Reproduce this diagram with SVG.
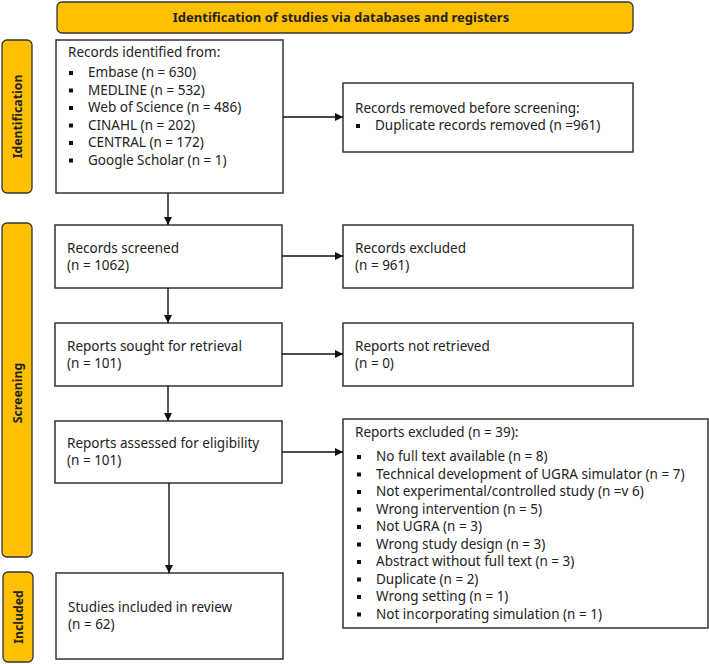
<svg xmlns="http://www.w3.org/2000/svg" width="709" height="664" viewBox="0 0 709 664">
<style>
.box{fill:#fff;stroke:#333;stroke-width:1.5}
.lab{fill:#FFC000;stroke:#333;stroke-width:1.3}
text{font-family:"Noto Sans","Liberation Sans",sans-serif;font-size:13.5px;fill:#222}
.b{font-weight:bold;font-size:13px}
.s{font-weight:bold;font-size:12.3px}
.con{stroke:#111;stroke-width:1.4;fill:none;marker-end:url(#ah)}
.sq{fill:#111}
</style>
<defs>
<marker id="ah" viewBox="0 0 10 10" refX="10" refY="5" markerWidth="8" markerHeight="8" markerUnits="userSpaceOnUse" orient="auto">
<path d="M0,0 L10,5 L0,10 z" fill="#111"/>
</marker>
<rect id="bul" width="4" height="4" class="sq"/>
</defs>
<rect width="709" height="664" fill="#fff"/>

<g id="banner">
<rect class="lab" x="57" y="2" width="576" height="31" rx="5"/>
<text class="b" x="341" y="22" text-anchor="middle">Identification of studies via databases and registers</text>
</g>

<g id="lab-identification">
<rect class="lab" x="2" y="40" width="30" height="153" rx="5"/>
<text class="s" transform="translate(21.5,116.5) rotate(-90)" text-anchor="middle">Identification</text>
</g>
<g id="lab-screening">
<rect class="lab" x="2" y="223" width="30" height="334" rx="5"/>
<text class="s" transform="translate(21.5,393) rotate(-90)" text-anchor="middle">Screening</text>
</g>
<g id="lab-included">
<rect class="lab" x="3" y="572" width="30" height="90" rx="5"/>
<text class="s" transform="translate(22.5,617) rotate(-90)" text-anchor="middle">Included</text>
</g>

<g id="identified">
<rect class="box" x="56" y="40" width="227" height="153"/>
<text x="68" y="56.5">Records identified from:</text>
<use href="#bul" x="69" y="71"/><text x="88" y="77">Embase (n = 630)</text>
<use href="#bul" x="69" y="88.5"/><text x="88" y="94.5">MEDLINE (n = 532)</text>
<use href="#bul" x="69" y="106"/><text x="88" y="112">Web of Science (n = 486)</text>
<use href="#bul" x="69" y="123.5"/><text x="88" y="129.5">CINAHL (n = 202)</text>
<use href="#bul" x="69" y="141"/><text x="88" y="147">CENTRAL (n = 172)</text>
<use href="#bul" x="69" y="158.5"/><text x="88" y="164.5">Google Scholar (n = 1)</text>
</g>

<g id="removed">
<rect class="box" x="343" y="83" width="290" height="69"/>
<text x="355" y="112.5">Records removed before screening:</text>
<use href="#bul" x="356" y="124"/><text x="375" y="130">Duplicate records removed  (n =961)</text>
</g>

<g id="screened">
<rect class="box" x="55" y="225" width="227" height="63"/>
<text x="67" y="252.5">Records screened</text>
<text x="67" y="270">(n = 1062)</text>
</g>
<g id="excluded">
<rect class="box" x="343" y="225" width="290" height="63"/>
<text x="355" y="252.5">Records excluded</text>
<text x="355" y="270">(n = 961)</text>
</g>

<g id="sought">
<rect class="box" x="55" y="323" width="227" height="63"/>
<text x="67" y="350.5">Reports sought for retrieval</text>
<text x="67" y="368">(n = 101)</text>
</g>
<g id="notretrieved">
<rect class="box" x="343" y="323" width="290" height="63"/>
<text x="355" y="350.5">Reports not retrieved</text>
<text x="355" y="368">(n = 0)</text>
</g>

<g id="assessed">
<rect class="box" x="55" y="421" width="227" height="62"/>
<text x="67" y="447.5">Reports assessed for eligibility</text>
<text x="67" y="465">(n = 101)</text>
</g>
<g id="reportsexcluded">
<rect class="box" x="343" y="419" width="365" height="209"/>
<text x="355" y="436.5">Reports excluded (n = 39):</text>
<use href="#bul" x="357" y="455"/><text x="376" y="461">No full text available (n = 8)</text>
<use href="#bul" x="357" y="472.5"/><text x="376" y="478.5">Technical development of UGRA simulator (n = 7)</text>
<use href="#bul" x="357" y="490"/><text x="376" y="496">Not experimental/controlled study (n =v 6)</text>
<use href="#bul" x="357" y="507.5"/><text x="376" y="513.5">Wrong intervention (n = 5)</text>
<use href="#bul" x="357" y="525"/><text x="376" y="531">Not UGRA (n = 3)</text>
<use href="#bul" x="357" y="542.5"/><text x="376" y="548.5">Wrong study design (n = 3)</text>
<use href="#bul" x="357" y="560"/><text x="376" y="566">Abstract without full text (n = 3)</text>
<use href="#bul" x="357" y="577.5"/><text x="376" y="583.5">Duplicate (n = 2)</text>
<use href="#bul" x="357" y="595"/><text x="376" y="601">Wrong setting (n = 1)</text>
<use href="#bul" x="357" y="612.5"/><text x="376" y="618.5">Not incorporating simulation (n = 1)</text>
</g>

<g id="included">
<rect class="box" x="56" y="573" width="227" height="86"/>
<text x="68" y="611.5">Studies included in review</text>
<text x="68" y="629">(n = 62)</text>
</g>

<g id="connectors">
<line class="con" x1="283" y1="117" x2="343" y2="117"/>
<line class="con" x1="168" y1="193" x2="168" y2="225"/>
<line class="con" x1="282" y1="256" x2="343" y2="256"/>
<line class="con" x1="168" y1="288" x2="168" y2="323"/>
<line class="con" x1="282" y1="354" x2="343" y2="354"/>
<line class="con" x1="168" y1="386" x2="168" y2="421"/>
<line class="con" x1="282" y1="452" x2="343" y2="452"/>
<line class="con" x1="169" y1="483" x2="169" y2="573"/>
</g>
</svg>
